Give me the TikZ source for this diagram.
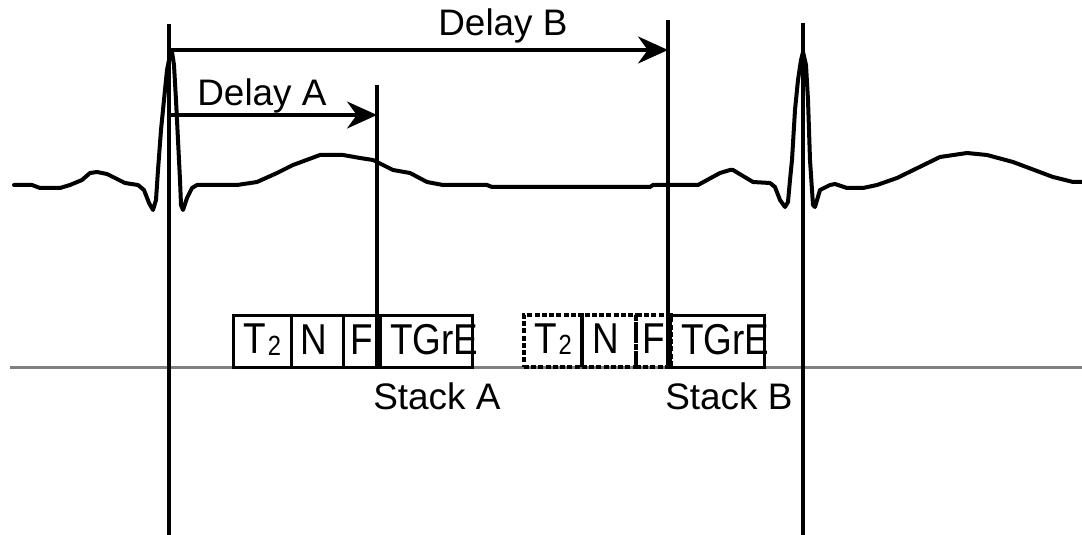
\documentclass[tikz,border=0pt]{standalone}
\usepackage{graphicx}
\usepackage{fontspec}
\setmainfont{Liberation Sans}
\usetikzlibrary{arrows.meta}
\definecolor{rulegray}{RGB}{128,128,128}
\newcommand\tallbox[1]{\scalebox{1}[1.17]{#1}}
\newcommand\Ttwo{T\kern0.4mm\raisebox{-0.3mm}{\fontsize{13.5}{14}\selectfont 2}}
\tikzset{
	trace/.style={line width=0.8mm, line join=round, line cap=round},
	marker/.style={line width=0.7mm},
	delay/.style={line width=0.7mm, -{Stealth[length=6mm,width=5.4mm]}},
	txt/.style={font=\fontsize{21}{25}\selectfont, inner sep=0pt},
	slot/.style={draw, line width=0.5mm, anchor=south west, inner sep=0pt, minimum height=10.4mm, txt},
	ghost/.style={slot, line width=0.75mm, dash pattern=on 1mm off 0.45mm},
	inslot/.style={txt, yshift=0.4mm}
}
\begin{document}
\begin{tikzpicture}[x=0.2mm, y=-0.2mm]
	\useasboundingbox (0,0) rectangle (1082,535);
	% baseline of the time axis
	\draw[rulegray, line width=0.6mm] (10,368) -- (1082,368);
	% ECG trace
	\draw[trace] plot coordinates {(14,185) (32,185) (40,188) (60,188) (70,185) (82,180) (90,173) (97,172) (107,174) (125,183) (138,185) (144,190) (149,203) (153,210) (156,200) (158,170) (161,130) (164,100) (167,70) (170,55) (172,52) (174,65) (176,100) (178,140) (180,180) (181,205) (183,210) (187,198) (192,188) (197,185) (237,185) (257,182) (277,173) (293,165) (320,155) (343,155) (360,158) (373,160) (393,170) (410,173) (427,182) (443,185) (487,185) (492,187) (650,187) (653,185) (698,185) (720,173) (730,170) (733,170) (753,182) (770,183) (775,187) (780,200) (785,207) (788,202) (790,180) (792,160) (795,110) (798,80) (801,60) (803,52) (806,65) (808,100) (810,160) (812,190) (813,205) (815,207) (820,190) (830,185) (835,184) (847,188) (863,188) (877,185) (897,178) (940,157) (967,153) (987,155) (1013,162) (1053,177) (1073,182) (1082,182)};
	% trigger and delay markers
	\coordinate (r1top) at (169,24);
	\coordinate (r1bot) at (169,535);
	\coordinate (r2top) at (803,23);
	\coordinate (r2bot) at (803,535);
	\coordinate (atop) at (377,85);
	\coordinate (abot) at (377,369);
	\coordinate (btop) at (668,20);
	\coordinate (bbot) at (668,369);
	\draw[marker] (r1top) -- (r1bot);
	\draw[marker] (r2top) -- (r2bot);
	\draw[marker] (atop) -- (abot);
	\draw[marker] (btop) -- (bbot);
	\coordinate (astart) at (169,115);
	\coordinate (aend) at (377,115);
	\coordinate (bstart) at (169,50);
	\coordinate (bend) at (668,50);
	\draw[delay] (astart) -- (aend);
	\draw[delay] (bstart) -- (bend);
	\node[txt, anchor=base west] (delaya) at (197,106) {Delay A};
	\node[txt, anchor=base west] (delayb) at (438,36) {Delay B};
	% stack A
	\node[slot, minimum width=11.6mm] (t2a) at (232,369) {};
	\node[slot, minimum width=10.4mm] (na) at (290,369) {};
	\node[slot, minimum width=7.4mm] (fa) at (342,369) {};
	\node[slot, minimum width=18.4mm] (tgrea) at (379,369) {};
	\node[inslot] at (t2a) {\tallbox{\Ttwo}};
	\node[inslot, xshift=-0.7mm] at (na) {\tallbox{N}};
	\node[inslot] at (fa) {\tallbox{F}};
	\node[inslot, xshift=1.6mm] at (tgrea) {\tallbox{TGrE}};
	\node[txt, anchor=base west] (stacka) at (373,410) {Stack A};
	% stack B
	\node[ghost, minimum width=11.6mm] (t2b) at (522,369) {};
	\node[ghost, minimum width=10.8mm] (nb) at (580,369) {};
	\node[ghost, minimum width=7mm] (fb) at (634,369) {};
	\node[slot, minimum width=18.8mm] (tgreb) at (669,369) {};
	\node[inslot] at (t2b) {\tallbox{\Ttwo}};
	\node[inslot, xshift=-0.7mm] at (nb) {\tallbox{N}};
	\node[inslot] at (fb) {\tallbox{F}};
	\node[inslot, xshift=1.6mm] at (tgreb) {\tallbox{TGrE}};
	\node[txt, anchor=base west] (stackb) at (665,410) {Stack B};
\end{tikzpicture}
\end{document}
